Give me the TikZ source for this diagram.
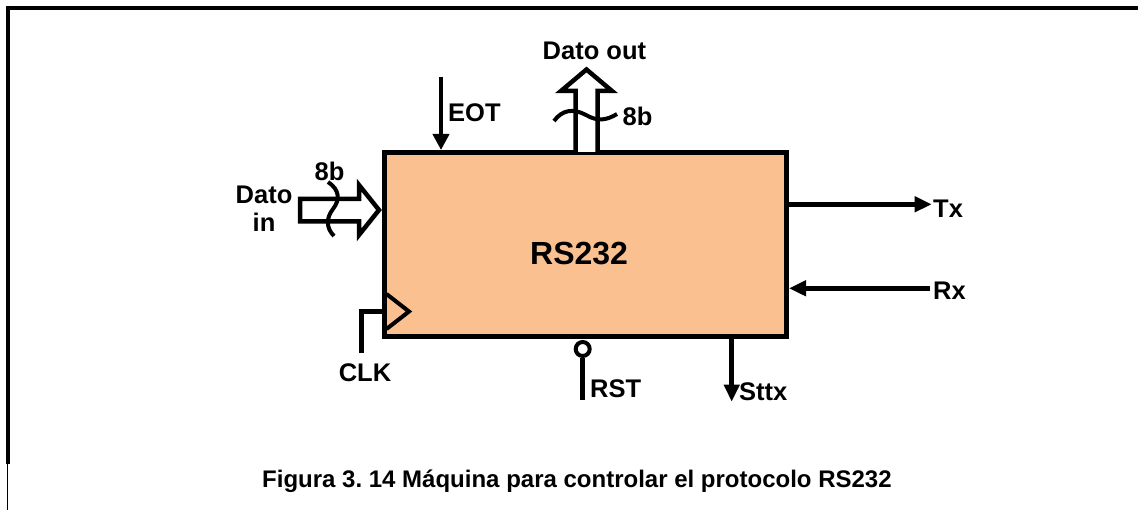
\documentclass[tikz,border=0pt]{standalone}
\usepackage{fontspec}
\setmainfont{Liberation Sans}
\usetikzlibrary{arrows.meta,calc}
\definecolor{peach}{HTML}{FAC090}
\frenchspacing
\begin{document}
\begin{tikzpicture}[x=1pt,y=-1pt,
  lbl/.style={font=\bfseries\fontsize{25.5}{28}\selectfont, inner sep=0pt},
  cpt/.style={font=\bfseries\fontsize{24}{28}\selectfont\frenchspacing, inner sep=0pt},
  wire/.style={line width=4.5pt},
  bus/.style={line width=4.5pt, fill=white, line join=miter},
  tip/.style={-{Triangle[length=17pt,width=15pt]}}]
\useasboundingbox (0,0) rectangle (1138,510);
% frame
\draw[line width=4pt, line join=miter] (1138,8) -- (8,8) -- (8,464);
\draw[line width=1.5pt] (7.5,464) -- (7.5,510);
% main block
\node[draw, line width=5pt, fill=peach, minimum width=402.5pt, minimum height=184pt, inner sep=0pt] (box) at (585.25,244.5) {};
\node[font=\bfseries\fontsize{32}{36}\selectfont, inner sep=0pt, anchor=base west] (rsl) at (530,265) {RS232};
% EOT
\coordinate (eot) at (441,77);
\draw[wire,-{Triangle[length=16pt,width=16pt]}] (eot) -- (eot |- box.north);
\node[lbl, anchor=base west] (eotl) at (448,122) {EOT};
% Dato out bus
\draw[bus] (575.5,152) -- (575.5,91) -- (561,91) -- (586.5,69.5) -- (612,91) -- (597.5,91) -- (597.5,152);
\draw[line width=4pt] (554,121) .. controls (562,110) and (573,108) .. (586,115) .. controls (598,122) and (607,120) .. (617,114);
\node[lbl, anchor=base west] (doutl) at (542.5,60) {Dato out};
\node[lbl, anchor=base west] (b8out) at (622.5,125.5) {8b};
% Dato in bus
\draw[bus] (300,199) -- (359,199) -- (359,185) -- (379,210) -- (359,235) -- (359,221.5) -- (300,221.5) -- cycle;
\draw[line width=4pt] (328,182) .. controls (340,190) and (340,200) .. (333,209) .. controls (326,218) and (326,228) .. (334,236);
\node[lbl, anchor=base west] (b8in) at (314.5,181) {8b};
\node[lbl, align=center] (dinl) at (264,209) {Dato\\in};
% CLK
\coordinate (clk) at (361.7,353);
\draw[wire, line join=miter] (clk) |- (box.west |- 0,311.5);
\draw[line width=4pt, line join=miter] (386.5,294) -- (409,311.5) -- (386.5,329);
\node[lbl, anchor=base] (clkl) at (365,381.5) {CLK};
% RST
\node[circle, draw, line width=4pt, minimum size=14pt, inner sep=0pt] (rstc) at (582.7,349) {};
\coordinate (rst) at (582.7,400);
\draw[line width=5pt] (rstc.south) -- (rst);
\node[lbl, anchor=base west] (rstl) at (590,398) {RST};
% Sttx
\coordinate (sttx) at (731.7,401.7);
\draw[wire,tip] (sttx |- box.south) -- (sttx);
\node[lbl, anchor=base west] (sttxl) at (739,401) {Sttx};
% Tx / Rx
\coordinate (tx) at (931.7,204.3);
\draw[wire,tip] (tx -| box.east) -- (tx);
\node[lbl, anchor=base west] (txl) at (933,217.5) {Tx};
\coordinate (rx) at (930,288.3);
\draw[wire,tip] (rx) -- (rx -| box.east);
\node[lbl, anchor=base west] (rxl) at (933,300) {Rx};
% caption
\node[cpt, anchor=base west] (cap) at (262,487) {Figura 3. 14 Máquina para controlar el protocolo RS232};
\end{tikzpicture}
\end{document}
